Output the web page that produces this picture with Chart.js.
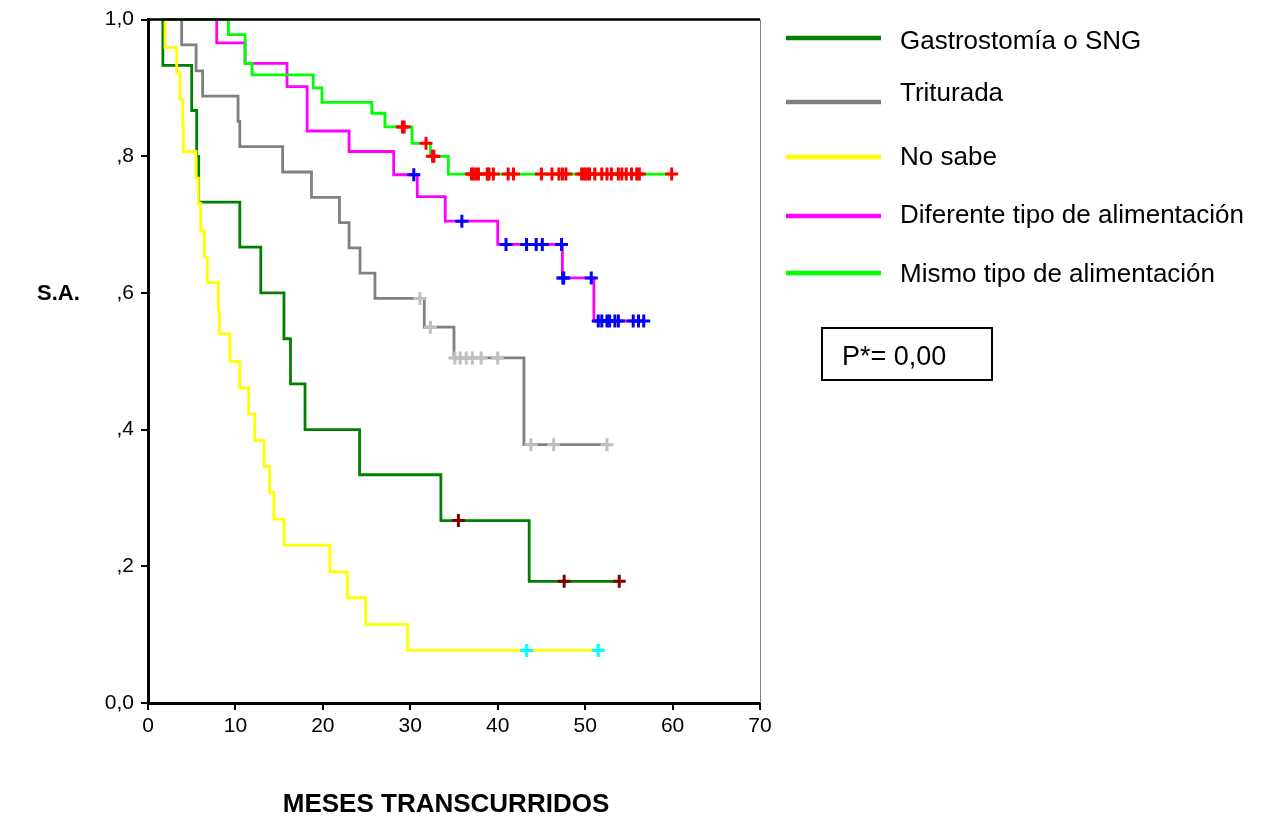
<!DOCTYPE html>
<html lang="es">
<head>
<meta charset="UTF-8">
<title>Supervivencia según tipo de alimentación</title>
<script src="https://cdn.jsdelivr.net/npm/chart.js"></script>
<style>
  body { margin: 0; background: #fff; }
</style>
</head>
<body>
<canvas id="kmChart" width="1262" height="816"></canvas>

<script>
const groupNames = ['Gastrostomía o SNG', 'Triturada', 'No sabe', 'Diferente tipo de alimentación', 'Mismo tipo de alimentación'];
const yTickLabels = ['0,0', ',2', ',4', ',6', ',8', '1,0'];
const pValueText = 'P*= 0,00';

// tiempos (meses) y supervivencia acumulada de cada grupo
const gastroT = [1.7, 1.7, 5.0, 5.57, 5.8, 10.5, 12.9, 15.55, 16.3, 17.96, 24.2, 33.5, 43.6, 53.9];
const gastroS = [1, 0.933, 0.867, 0.8, 0.733, 0.667, 0.6, 0.533, 0.467, 0.4, 0.334, 0.267, 0.178, 0.178];
const gastroCens = [35.5, 47.6, 53.9];

const trituT = [1.7, 3.85, 5.5, 6.25, 10.3, 10.5, 15.4, 18.7, 21.9, 23.0, 24.25, 25.96, 31.6, 35.0, 43.0, 52.5];
const trituS = [1, 0.963, 0.925, 0.888, 0.851, 0.814, 0.777, 0.740, 0.703, 0.666, 0.629, 0.592, 0.55, 0.505, 0.378, 0.378];
const trituCens = [31.1, 32.3, 35.1, 35.7, 36.4, 37.1, 38.1, 40.0, 43.8, 46.4, 52.5];

const nosabeT = [1.95, 1.95, 3.28, 3.66, 3.97, 4.04, 5.49, 5.76, 6.02, 6.44, 6.79, 8.05, 8.16, 9.38, 10.5, 11.5, 12.2, 13.27, 13.9, 14.4, 15.55, 20.8, 22.8, 24.9, 29.7, 51.5];
const nosabeS = [1, 0.959, 0.922, 0.883, 0.846, 0.807, 0.768, 0.731, 0.691, 0.652, 0.615, 0.575, 0.540, 0.500, 0.461, 0.423, 0.384, 0.346, 0.308, 0.269, 0.231, 0.192, 0.154, 0.115, 0.077, 0.077];
const nosabeCens = [43.3, 51.5];

const difT = [1.7, 7.86, 11.1, 15.9, 18.2, 23.0, 28.1, 30.8, 34.0, 40.0, 47.4, 51.0, 56.7];
const difS = [1, 0.966, 0.936, 0.902, 0.837, 0.807, 0.773, 0.741, 0.705, 0.671, 0.622, 0.559, 0.559];
const difCens = [30.4, 35.9, 40.95, 43.3, 44.4, 45.1, 47.3, 47.45, 47.55, 50.7, 51.5, 51.9, 52.5, 52.8, 53.4, 53.8, 55.5, 56.1, 56.7];

const mismoT = [1.7, 9.2, 11.1, 11.9, 18.9, 19.9, 25.6, 27.1, 30.2, 32.3, 34.35, 60];
const mismoS = [1, 0.978, 0.936, 0.919, 0.900, 0.879, 0.863, 0.843, 0.819, 0.800, 0.774, 0.774];
const mismoCens = [29.1, 29.3, 31.8, 32.55, 32.7, 37.0, 37.2, 37.5, 37.8, 38.8, 39.0, 39.5, 41.2, 41.8, 45.0, 46.2, 47.0, 47.4, 47.8,
                   49.6, 49.9, 50.2, 50.5, 51.1, 51.9, 52.5, 53.0, 53.8, 54.2, 54.7, 55.3, 55.9, 56.2, 59.9];

const lineColors = ['#008000', '#808080', '#ffff00', '#ff00ff', '#00ff00'];
const censColors = ['#800000', '#c0c0c0', '#00ffff', '#0000ff', '#ff0000'];

const groups = [
  { t: gastroT, s: gastroS, c: gastroCens },
  { t: trituT, s: trituS, c: trituCens },
  { t: nosabeT, s: nosabeS, c: nosabeCens },
  { t: difT, s: difS, c: difCens },
  { t: mismoT, s: mismoS, c: mismoCens }
];

function survAt(g, time) {
  let v = g.s[0];
  for (let i = 0; i < g.t.length; i++) {
    if (g.t[i] <= time) v = g.s[i];
  }
  return v;
}

const datasets = [];
groups.forEach((g, i) => {
  datasets.push({
    label: groupNames[i],
    data: g.t.map((t, k) => ({ x: t, y: g.s[k] })),
    borderColor: lineColors[i],
    borderWidth: 2.8,
    stepped: 'before',
    pointRadius: 0,
    fill: false,
    clip: false,
    order: 10 - i
  });
  datasets.push({
    label: groupNames[i] + ' (censurados)',
    data: g.c.map(t => ({ x: t, y: survAt(g, t) })),
    showLine: false,
    pointStyle: 'cross',
    pointRadius: 6.5,
    pointBorderWidth: 3,
    pointBorderColor: censColors[i],
    pointBackgroundColor: censColors[i],
    clip: false,
    order: 0
  });
});

// marco, leyenda, títulos y caja del valor p
const extras = {
  id: 'extras',
  afterDraw(chart) {
    const ctx = chart.ctx;
    const a = chart.chartArea;
    ctx.save();

    ctx.strokeStyle = '#000';
    ctx.lineWidth = 2.5;
    ctx.beginPath();
    ctx.moveTo(a.left, a.top);
    ctx.lineTo(a.right, a.top);
    ctx.stroke();
    ctx.strokeStyle = '#808080';
    ctx.lineWidth = 1;
    ctx.beginPath();
    ctx.moveTo(a.right + 0.5, a.top);
    ctx.lineTo(a.right + 0.5, a.bottom);
    ctx.stroke();

    const lineYs = [38, 102, 157, 216, 273];
    const textYs = [49, 101, 165, 223, 282];
    ctx.font = '26px "Liberation Sans", Arial, sans-serif';
    ctx.fillStyle = '#000';
    ctx.textBaseline = 'alphabetic';
    groupNames.forEach((name, i) => {
      ctx.strokeStyle = lineColors[i];
      ctx.lineWidth = 4.5;
      ctx.beginPath();
      ctx.moveTo(786, lineYs[i]);
      ctx.lineTo(881, lineYs[i]);
      ctx.stroke();
      ctx.fillText(name, 900, textYs[i]);
    });

    ctx.strokeStyle = '#000';
    ctx.lineWidth = 2;
    ctx.strokeRect(822, 328, 170, 52);
    ctx.font = '27px "Liberation Sans", Arial, sans-serif';
    ctx.fillText(pValueText, 842, 365);

    ctx.font = 'bold 26px "Liberation Sans", Arial, sans-serif';
    ctx.textAlign = 'center';
    ctx.fillText('MESES TRANSCURRIDOS', 446, 812);
    ctx.font = 'bold 22px "Liberation Sans", Arial, sans-serif';
    ctx.textAlign = 'left';
    ctx.fillText('S.A.', 37, 300);
    ctx.restore();
  }
};

new Chart(document.getElementById('kmChart'), {
  type: 'line',
  data: { datasets: datasets },
  options: {
    responsive: false,
    animation: false,
    layout: { padding: { left: 0, right: 502, top: 18, bottom: 0 } },
    plugins: {
      legend: { display: false },
      tooltip: { enabled: false }
    },
    scales: {
      x: {
        type: 'linear',
        min: 0,
        max: 70,
        afterFit(scale) { scale.height = 113; },
        border: { display: true, color: '#000', width: 3 },
        grid: { drawOnChartArea: false, color: '#000', lineWidth: 2, tickLength: 7 },
        ticks: {
          stepSize: 10,
          color: '#000',
          padding: 4,
          font: { size: 21, family: '"Liberation Sans", Arial, sans-serif' }
        }
      },
      y: {
        type: 'linear',
        min: 0,
        max: 1,
        afterFit(scale) { scale.width = 148; },
        border: { display: true, color: '#000', width: 3 },
        grid: { drawOnChartArea: false, color: '#000', lineWidth: 2, tickLength: 7 },
        ticks: {
          stepSize: 0.2,
          color: '#000',
          padding: 7,
          font: { size: 21, family: '"Liberation Sans", Arial, sans-serif' },
          callback: (v) => yTickLabels[Math.round(v * 5)]
        }
      }
    }
  },
  plugins: [extras]
});
</script>
</body>
</html>
